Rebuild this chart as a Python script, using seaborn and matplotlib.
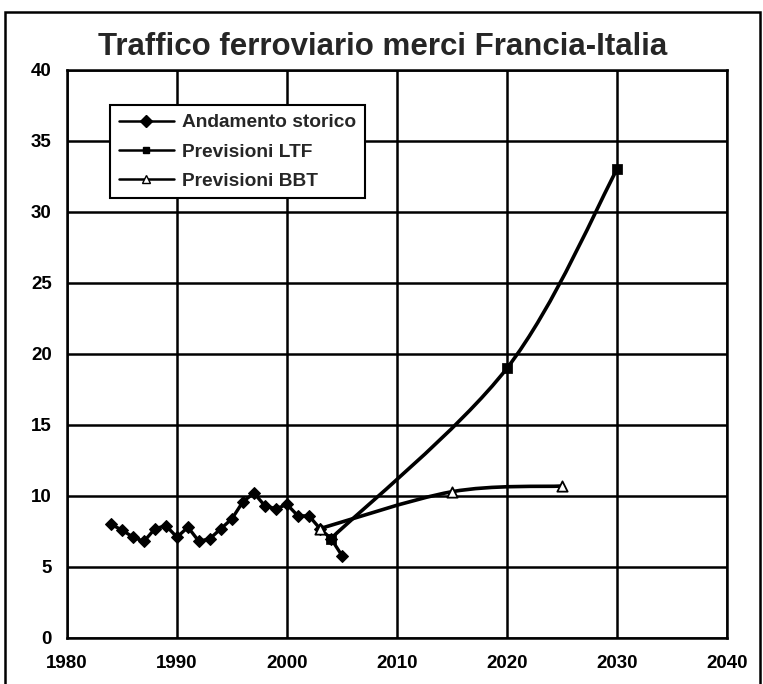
import numpy as np
import pandas as pd
import matplotlib
matplotlib.use("Agg")
import matplotlib.pyplot as plt
from matplotlib.path import Path
from matplotlib.patches import PathPatch, Rectangle
from matplotlib.lines import Line2D
import seaborn as sns

# historical series
hist_years = list(range(1984, 2006))
hist_values = [8.0, 7.6, 7.1, 6.8, 7.7, 7.9, 7.1, 7.8, 6.8, 7.0, 7.7,
               8.4, 9.6, 10.2, 9.3, 9.1, 9.4, 8.6, 8.6, 7.7, 7.0, 5.8]

# forecasts
ltf_years = [2004, 2020, 2030]
ltf_values = [7.0, 19.0, 33.0]
bbt_years = [2003, 2015, 2025]
bbt_values = [7.7, 10.3, 10.7]

x_ticks = [1980, 1990, 2000, 2010, 2020, 2030, 2040]
y_ticks = [0, 5, 10, 15, 20, 25, 30, 35, 40]

title = "Traffico ferroviario merci Francia-Italia"
labels = ["Andamento storico", "Previsioni LTF", "Previsioni BBT"]


def smooth_path(xs, ys):
    # excel-like smoothed line: catmull-rom segments as cubic beziers
    pts = np.column_stack([xs, ys]).astype(float)
    ext = np.vstack([pts[0], pts, pts[-1]])
    verts = [pts[0]]
    codes = [Path.MOVETO]
    for i in range(1, len(ext) - 2):
        p0, p1, p2, p3 = ext[i - 1], ext[i], ext[i + 1], ext[i + 2]
        verts += [p1 + (p2 - p0) / 6, p2 - (p3 - p1) / 6, p2]
        codes += [Path.CURVE4] * 3
    return Path(verts, codes)


sns.set_style("white")
plt.rcParams['font.family'] = ['Liberation Sans', 'DejaVu Sans']

fig = plt.figure(figsize=(7.63, 6.84), dpi=100)
ax = fig.add_axes([0.0878, 0.0673, 0.865, 0.8304])

df_hist = pd.DataFrame({"year": hist_years, "value": hist_values})
sns.lineplot(data=df_hist, x="year", y="value", ax=ax, color="black",
             linewidth=2.4, marker="D", markersize=6.5,
             markerfacecolor="black", markeredgecolor="black", zorder=4)

ax.add_patch(PathPatch(smooth_path(ltf_years, ltf_values), fill=False,
                       edgecolor="black", linewidth=2.6, zorder=3))
ax.add_patch(PathPatch(smooth_path(bbt_years, bbt_values), fill=False,
                       edgecolor="black", linewidth=2.6, zorder=3))

sns.scatterplot(x=ltf_years, y=ltf_values, ax=ax, marker="s", s=45,
                color="black", edgecolor="black", zorder=5)
sns.scatterplot(x=bbt_years, y=bbt_values, ax=ax, marker="^", s=55,
                facecolor="white", edgecolor="black", linewidth=1.3, zorder=5)

ax.set_xlim(1980, 2040)
ax.set_ylim(0, 40)
ax.set_xticks(x_ticks)
ax.set_yticks(y_ticks)
ax.set_xlabel("")
ax.set_ylabel("")
ax.grid(True, color="black", linewidth=1.8)
ax.set_axisbelow(True)
for s in ax.spines.values():
    s.set_color("black")
    s.set_linewidth(1.8)
ax.tick_params(axis="both", direction="out", length=5, width=1.5,
               color="black", labelsize=13.5, labelcolor="black")
for lbl in ax.get_xticklabels() + ax.get_yticklabels():
    lbl.set_fontweight("bold")
ax.tick_params(axis="y", pad=6)
ax.tick_params(axis="x", pad=7)

handles = [
    Line2D([], [], color="black", lw=1.8, marker="D", markersize=6),
    Line2D([], [], color="black", lw=1.8, marker="s", markersize=5),
    Line2D([], [], color="black", lw=1.8, marker="^", markersize=6,
           markerfacecolor="white"),
]
leg = ax.legend(handles, labels, loc="upper left",
                bbox_to_anchor=(0.065, 0.938), borderaxespad=0,
                prop={"size": 13.8, "weight": "bold"}, handlelength=2.9,
                frameon=True, fancybox=False, edgecolor="black", framealpha=1,
                labelspacing=0.62, borderpad=0.45, handletextpad=0.4)
leg.get_frame().set_linewidth(1.5)

fig.text(0.502, 0.932, title, ha="center", va="center",
         fontsize=22.5, fontweight="bold")

# outer frame of the scanned page
fig.patches.append(Rectangle((5 / 763, -0.05), 755 / 763, 1.05 - 12 / 684,
                             transform=fig.transFigure, fill=False,
                             edgecolor="black", linewidth=1.8))

fig.savefig("out.png", dpi=100)
